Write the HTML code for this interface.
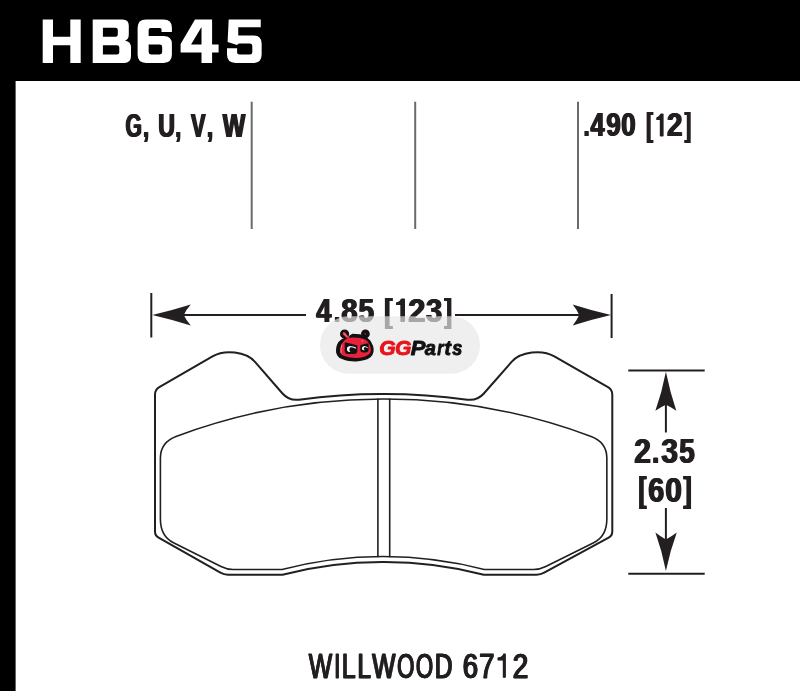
<!DOCTYPE html>
<html>
<head>
<meta charset="utf-8">
<title>HB645</title>
<style>
html,body{margin:0;padding:0;background:#fff;}
body{width:800px;height:691px;overflow:hidden;font-family:"Liberation Sans",sans-serif;}
svg{display:block;}
text{font-family:"Liberation Sans",sans-serif;font-weight:bold;fill:#231f20;}
.reg text{font-weight:normal;stroke:#231f20;stroke-width:0.7px;}
.bi text{font-style:italic;fill:inherit;stroke:inherit;stroke-width:0.9px;stroke-linejoin:round;}
</style>
</head>
<body>
<svg width="800" height="691" viewBox="0 0 800 691">
  <rect x="0" y="0" width="800" height="691" fill="#ffffff"/>
  <!-- header + left border -->
  <rect x="0" y="0" width="800" height="81" fill="#000"/>
  <rect x="0" y="0" width="15.6" height="691" fill="#000"/>
  <!-- title -->
  <g id="title" fill="#fff">
    <path d="M42.7 19.4h10.3v17.3h17.3v-17.3h10.4v43.5h-10.4v-17.6h-17.3v17.6h-10.3z"/>
    <path fill-rule="evenodd" d="M92.7 19.4H122.5Q128.8 19.4 128.8 25.7V34.5Q128.8 39.5 125 40.6Q131 41.8 131 47.5V56Q131 62.9 124.2 62.9H92.7Z
      M102.9 27.8H115.6Q117.8 27.8 117.8 30V34.5Q117.8 36.7 115.6 36.7H102.9Z
      M102.9 45.3H117Q119.3 45.3 119.3 47.6V52.3Q119.3 54.6 117 54.6H102.9Z"/>
    <path fill-rule="evenodd" d="M146 19.4H163.5Q171.9 19.4 171.9 27.5V32H161.5V29.5Q161.5 28 160 28H150.6Q148.65 28 148.65 30V35.9H163.5Q171.9 35.9 171.9 44V54.5Q171.9 62.9 163.5 62.9H146Q137.6 62.9 137.6 54.5V27.8Q137.6 19.4 146 19.4Z
      M148.65 44.4H159.8Q162.15 44.4 162.15 46.8V52.1Q162.15 54.5 159.8 54.5H151Q148.65 54.5 148.65 52.1Z"/>
    <path fill-rule="evenodd" d="M195 19.4H212.1V44.6H218.6V52.5H212.1V62.9H201.5V52.5H180.6V44Z M201.5 26.9V44.6H191.1Z"/>
    <path d="M228.7 19.4H260.75V27.3H238.25V35.4H253.5Q261.65 35.4 261.65 43.5V54.5Q261.65 62.9 253.3 62.9H235.5Q227 62.9 227 54.5V48.3H237.1V52Q237.1 54.5 239.6 54.5H249.8Q252.3 54.5 252.3 52V46Q252.3 43.5 249.8 43.5H240Q238 43.5 237.1 44.9L227.6 42.1Z"/>
  </g>

  <!-- top row -->
  <g stroke="#6a6a6c" stroke-width="2">
    <line x1="251.7" y1="101.7" x2="251.7" y2="229"/>
    <line x1="415.2" y1="101.7" x2="415.2" y2="229"/>
    <line x1="578" y1="101.7" x2="578" y2="229"/>
  </g>

  <!-- width dimension -->
  <g stroke="#231f20" stroke-width="2" fill="none">
    <line x1="151.3" y1="293" x2="151.3" y2="337.5"/>
    <line x1="611.6" y1="294" x2="611.6" y2="338"/>
    <line x1="183" y1="315.1" x2="306" y2="315.1"/>
    <line x1="455" y1="315.1" x2="580" y2="315.1"/>
  </g>
  <path d="M152.3 315.1 Q172 310.5 190.8 304.6 Q186 310 183.8 315.1 Q186 320.2 190.8 325.6 Q172 319.7 152.3 315.1Z" fill="#231f20"/>
  <path d="M611 315.1 Q591 310.5 572.7 304.6 Q577 310 579.2 315.1 Q577 320.2 572.7 325.6 Q591 319.7 611 315.1Z" fill="#231f20"/>

  <!-- height dimension -->
  <g stroke="#231f20" stroke-width="2" fill="none">
    <line x1="628.3" y1="370.5" x2="704.7" y2="370.5"/>
    <line x1="628.3" y1="573.7" x2="704.7" y2="573.7"/>
    <line x1="665.9" y1="404" x2="665.9" y2="432.5"/>
    <line x1="665.9" y1="508" x2="665.9" y2="540"/>
  </g>
  <path d="M665.9 371.8 Q670 392 676.3 410.8 Q671 407 665.9 404.8 Q661 407 655.4 410.8 Q662 392 665.9 371.8Z" fill="#231f20"/>
  <path d="M665.9 571 Q670 551 676.8 532.6 Q671 537 665.9 539.5 Q661 537 655.4 532.6 Q662 551 665.9 571Z" fill="#231f20"/>

  <!-- pad outline -->
  <g stroke="#231f20" fill="none" stroke-linejoin="round" stroke-linecap="round">
    <!-- outer backing plate -->
    <path id="outer" stroke-width="2.0" d="M382.8 394 A605 605 0 0 0 299 399.65 Q289.1 401 282.5 393.5 L255 361.9 C245.8 351.34 224.6 349.36 212.5 356.4 L159.3 387.2 Q155 389.7 155 394.7 L155 531.5 Q155 535.65 158.6 537.7 L220.4 572.7 Q223.9 574.7 228 574.7 L282.5 574.7 A397 397 0 0 1 382.8 562 A397 397 0 0 1 483.84 574.7 L536.6 574.7 Q540.7 574.7 544.2 572.7 L608.66 537.7 Q612.29 535.65 612.29 531.5 L612.29 394.7 Q612.29 389.7 607.95 387.2 L554.36 356.4 C542.17 349.36 520.81 351.34 511.55 361.9 L483.84 393.5 Q477.19 401 467.22 399.65 A605 605 0 0 0 382.8 394 Z"/>
    <!-- friction material -->
    <path id="inner" stroke-width="1.6" d="M382.8 399 A590 590 0 0 0 176 436.4 Q160.4 442.3 160.4 458 L160.4 519 Q160.4 536.2 173.5 542.75 L221 566.5 Q227 569.5 233 569.5 L282 569.5 A402.5 402.5 0 0 1 382.8 556.5 A402.5 402.5 0 0 1 484.35 569.5 L533.71 569.5 Q539.75 569.5 545.8 566.5 L593.65 542.75 Q606.85 536.2 606.85 519 L606.85 458 Q606.85 442.3 591.13 436.4 A590 590 0 0 0 382.8 399 Z"/>
    <line x1="377.9" y1="399.1" x2="377.9" y2="556.6" stroke-width="1.6"/>
    <line x1="389.7" y1="399.1" x2="389.7" y2="556.6" stroke-width="1.6"/>
  </g>

  <!-- bottom label -->

  <g id="alltext" opacity="0.999">
  <g id="compounds">
    <g id="compounds-g">
      <text transform="translate(125.59 136.5) scale(0.630 1)" font-size="33.4">G</text>
      <text transform="translate(143.37 136.5) scale(0.607 1)" font-size="33.4">,</text>
      <text transform="translate(158.36 136.5) scale(0.692 1)" font-size="33.4">U</text>
      <text transform="translate(175.52 136.5) scale(0.586 1)" font-size="33.4">,</text>
      <text transform="translate(191.00 136.5) scale(0.651 1)" font-size="33.4">V</text>
      <text transform="translate(206.98 136.5) scale(0.649 1)" font-size="33.4">,</text>
      <text transform="translate(222.73 136.5) scale(0.715 1)" font-size="33.4">W</text>
    </g>
    <use href="#compounds-g" x="-0.75"/><use href="#compounds-g" x="0.75"/>
  </g>
  <g id="thick">
    <g id="thick-g">
      <text transform="translate(583.76 136.35) scale(0.628 1)" font-size="32.7">.</text>
      <text transform="translate(590.47 136.35) scale(0.771 1)" font-size="32.7">4</text>
      <text transform="translate(606.25 136.35) scale(0.796 1)" font-size="32.7">9</text>
      <text transform="translate(621.33 136.35) scale(0.791 1)" font-size="32.7">0</text>
      <text transform="translate(646.13 136.35) scale(0.612 1)" font-size="32.7">[</text>
      <path d="M662.85 113.85V136.35H660.55V120.04H657.05V117.60Q660.15 117.00 661.05 113.85Z" fill="#231f20"/>
      <text transform="translate(667.09 136.35) scale(0.851 1)" font-size="32.7">2</text>
      <text transform="translate(684.72 136.35) scale(0.578 1)" font-size="32.7">]</text>
    </g>
    <use href="#thick-g" x="-0.75"/><use href="#thick-g" x="0.75"/>
  </g>
  <g id="wdim">
    <g id="wdim-g">
      <text transform="translate(316.34 321.7) scale(0.813 1)" font-size="33.3">4</text>
      <text transform="translate(334.36 321.7) scale(0.617 1)" font-size="33.3">.</text>
      <text transform="translate(341.22 321.7) scale(0.882 1)" font-size="33.3">8</text>
      <text transform="translate(358.49 321.7) scale(0.839 1)" font-size="33.3">5</text>
      <text transform="translate(384.37 321.7) scale(0.738 1)" font-size="33.3">[</text>
      <path d="M404.25 298.79V321.7H401.07V305.09H396.75V302.60Q400.67 302.00 401.57 298.79Z" fill="#231f20"/>
      <text transform="translate(408.28 321.7) scale(0.929 1)" font-size="33.3">2</text>
      <text transform="translate(426.08 321.7) scale(0.876 1)" font-size="33.3">3</text>
      <text transform="translate(444.48 321.7) scale(0.669 1)" font-size="33.3">]</text>
    </g>
    <use href="#wdim-g" x="-0.75"/><use href="#wdim-g" x="0.75"/>
  </g>
  <g id="hdim1">
    <g id="hdim1-g">
      <text transform="translate(634.26 463.45) scale(0.850 1)" font-size="35.2">2</text>
      <text transform="translate(652.41 463.45) scale(0.664 1)" font-size="35.2">.</text>
      <text transform="translate(661.31 463.45) scale(0.857 1)" font-size="35.2">3</text>
      <text transform="translate(679.24 463.45) scale(0.794 1)" font-size="35.2">5</text>
    </g>
    <use href="#hdim1-g" x="-0.8"/><use href="#hdim1-g" x="0.8"/>
  </g>
  <g id="hdim2">
    <g id="hdim2-g">
      <text transform="translate(638.61 502.15) scale(0.647 1)" font-size="35.6">[</text>
      <text transform="translate(648.25 502.15) scale(0.808 1)" font-size="35.6">6</text>
      <text transform="translate(665.32 502.15) scale(0.839 1)" font-size="35.6">0</text>
      <text transform="translate(683.50 502.15) scale(0.690 1)" font-size="35.6">]</text>
    </g>
    <use href="#hdim2-g" x="-0.8"/><use href="#hdim2-g" x="0.8"/>
  </g>
  <g id="app" class="reg">
    <g id="app-g">
      <text transform="translate(308.84 677.6) scale(0.710 1)" font-size="34.7">W</text>
      <text transform="translate(334.52 677.6) scale(0.587 1)" font-size="34.7">I</text>
      <text transform="translate(341.87 677.6) scale(0.712 1)" font-size="34.7">L</text>
      <text transform="translate(357.53 677.6) scale(0.693 1)" font-size="34.7">L</text>
      <text transform="translate(372.29 677.6) scale(0.705 1)" font-size="34.7">W</text>
      <text transform="translate(397.15 677.6) scale(0.637 1)" font-size="34.7">O</text>
      <text transform="translate(415.90 677.6) scale(0.637 1)" font-size="34.7">O</text>
      <text transform="translate(434.69 677.6) scale(0.706 1)" font-size="34.7">D</text>
      <text transform="translate(462.80 677.6) scale(0.793 1)" font-size="34.7">6</text>
      <text transform="translate(479.08 677.6) scale(0.799 1)" font-size="34.7">7</text>
      <path d="M505.40 653.73V677.6H503.24V660.29H497.90V657.67Q502.84 657.07 503.74 653.73Z" fill="#231f20"/>
      <text transform="translate(512.70 677.6) scale(0.803 1)" font-size="34.7">2</text>
    </g>
    <use href="#app-g" x="-0.45"/><use href="#app-g" x="0.45"/>
  </g>
  </g>
  <!-- watermark pill -->
  <rect x="320" y="316.3" width="160" height="57.4" rx="28.7" fill="#e7e7e7" fill-opacity="0.68"/>
  <g id="wm" opacity="0.999">
  <g id="mascot">
    <circle cx="344.6" cy="334.1" r="3.1" fill="#e8213c" stroke="#111" stroke-width="3.0"/>
    <circle cx="365.4" cy="333.9" r="2.6" fill="#c2183a" stroke="#111" stroke-width="3.6"/>
    <path d="M349.5 335.4 L352.5 333.7 L360 334.2 L366 336.4 L370.5 340.7 L373.1 346 Q374 349 373.5 352 Q372.8 355.5 370.5 357.3 Q367.5 359.6 363.7 360.3 Q360 361.4 356.2 361.4 Q352 361.5 348.7 361 Q345 360.4 342 359.1 Q338.6 357.8 337.5 355.7 Q335.6 353 336 350.5 Q336 347 337.1 344.5 Q338.5 341.5 341.2 339.6 Q345 336.8 349.5 336.2Z" fill="#111"/>
    <path d="M341.3 344.5 Q339.6 348.5 340.1 352 Q340.5 354 342 355 Q345 356.6 348.7 357.2 Q352.5 358 356.2 358 Q360 357.8 363.7 356.9 Q367 356 369 354.2 Q370.9 352.6 370.9 350.5 Q370.9 347.4 369.7 344.5 Q368.4 341.7 366 340 Q363.3 338.5 360 338.1 Q356.3 337.3 352.5 337.4 Q349.6 337.6 347.2 338.5 Q345 339.6 343.5 341.5 Q342.2 342.8 341.3 344.5Z" fill="#e8213c"/>
    <path d="M343.8 333.4 L350.2 340" stroke="#e8213c" stroke-width="2.3" stroke-linecap="round" fill="none"/>
    <path d="M343.8 333.2 L346.6 336.2" stroke="#f2647c" stroke-width="1.4" stroke-linecap="round" fill="none"/>
    <path d="M341.8 345 Q340.6 348.6 341 352.6" stroke="#f4869a" stroke-width="0.9" stroke-linecap="round" fill="none"/>
    <circle cx="362.4" cy="341" r="0.7" fill="#f4869a"/>
    <!-- eyes -->
    <path d="M345.6 342.6 Q351 343.6 357.4 345.6 L357.3 350.6 Q357.2 354.1 353.8 354.1 L348.4 354.1 Q344.7 354.1 344.7 350.4 L344.7 343.6 Q344.7 342.5 345.6 342.6Z" fill="#111"/>
    <path d="M360.3 345.2 Q364.5 343.6 368.6 343.2 L368.5 349.2 Q368.4 352.4 365.4 352.4 L363.2 352.4 Q360.3 352.4 360.3 349.4Z" fill="#111"/>
    <path d="M351 346.5 Q347 345.7 346.9 349 Q347 352.4 350.4 352 Q349.2 350.8 349.4 349.2 Q349.6 347.6 351 346.5Z" fill="#fff"/>
    <path d="M350 346.7 Q353 346.6 355.6 348" stroke="#fff" stroke-width="1.1" stroke-linecap="round" fill="none"/>
    <path d="M365 346.4 Q362 345.8 361.9 348.4 Q362 350.6 364.6 350.3 Q363.6 349.4 363.8 348.3 Q364 347.2 365 346.4Z" fill="#fff"/>
    <path d="M364.2 346.6 Q366 346.5 367.4 347.5" stroke="#fff" stroke-width="0.9" stroke-linecap="round" fill="none"/>
  </g>
  <g id="wmtext" class="bi">
    <g fill="#e8141c" stroke="#e8141c">
      <text transform="translate(379.22 354.8) scale(1.027 1)" font-size="20.5">G</text>
      <text transform="translate(395.02 354.8) scale(1.027 1)" font-size="20.5">G</text>
    </g>
    <g fill="#111" stroke="#111">
      <text transform="translate(410.66 354.8) scale(1.072 1)" font-size="20.5">P</text>
      <text transform="translate(424.75 354.8) scale(0.981 1)" font-size="20.5">a</text>
      <text transform="translate(437.17 354.8) scale(0.806 1)" font-size="20.5">r</text>
      <text transform="translate(444.44 354.8) scale(0.945 1)" font-size="20.5">t</text>
      <text transform="translate(452.25 354.8) scale(0.888 1)" font-size="20.5">s</text>
    </g>
  </g>
  </g>
</svg>
</body>
</html>
